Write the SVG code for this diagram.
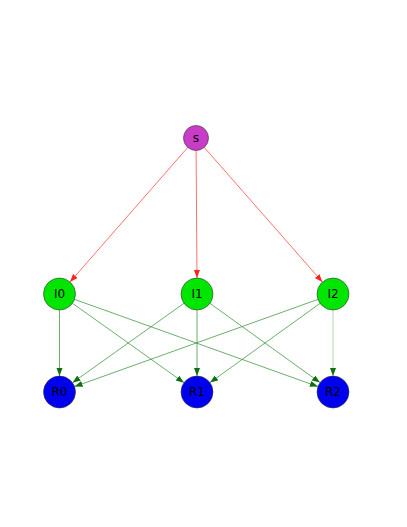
<svg xmlns="http://www.w3.org/2000/svg" width="407" height="527" viewBox="0 0 407 527">
<style>
.n{stroke:#333;stroke-width:0.6}
.s{fill:#c83cc8}
.i{fill:#00e600}
.r{fill:#0000f0}
text{font-family:"DejaVu Sans",sans-serif;font-size:12px;fill:#000;text-anchor:middle;dominant-baseline:central}
.re{stroke:#ff3030;stroke-width:0.7;fill:none;marker-end:url(#ar)}
.ge{stroke:#2e8b2e;stroke-width:0.7;fill:none;marker-end:url(#ag)}
</style>
<defs>
<marker id="ar" markerUnits="userSpaceOnUse" markerWidth="9" markerHeight="7" refX="8" refY="3" orient="auto"><path d="M0,0 L8,3 L0,6 z" fill="#ff2020"/></marker>
<marker id="ag" markerUnits="userSpaceOnUse" markerWidth="9" markerHeight="7" refX="8" refY="3" orient="auto"><path d="M0,0 L8,3 L0,6 z" fill="#0f6f0f"/></marker>
</defs>
<rect width="407" height="527" fill="#fff"/>
<g id="edges">
<line class="re" x1="188.1" y1="147" x2="70" y2="282"/>
<line class="re" x1="196.1" y1="150.5" x2="197" y2="278"/>
<line class="re" x1="203.9" y1="147" x2="322.4" y2="282"/>
<line class="ge" x1="59.5" y1="310" x2="59.5" y2="376"/>
<line class="ge" x1="72.5" y1="303.3" x2="184" y2="382.7"/>
<line class="ge" x1="74.6" y1="299.4" x2="317.9" y2="386.6"/>
<line class="ge" x1="184" y1="303.3" x2="72.5" y2="382.7"/>
<line class="ge" x1="197" y1="310" x2="197" y2="376"/>
<line class="ge" x1="210" y1="303.4" x2="320" y2="382.6"/>
<line class="ge" x1="317.9" y1="299.4" x2="74.6" y2="386.6"/>
<line class="ge" x1="320" y1="303.4" x2="210" y2="382.6"/>
<line class="ge" x1="333" y1="310" x2="333" y2="376" style="stroke:#8ac88a"/>
</g>
<g id="s"><circle class="n s" cx="196" cy="138" r="12.5"/><text x="196" y="138">s</text></g>
<g id="I0"><circle class="n i" cx="59.5" cy="294" r="16"/><text x="59.5" y="294">I0</text></g>
<g id="I1"><circle class="n i" cx="197" cy="294" r="16"/><text x="197" y="294">I1</text></g>
<g id="I2"><circle class="n i" cx="333" cy="294" r="16"/><text x="333" y="294">I2</text></g>
<g id="R0"><circle class="n r" cx="59.5" cy="392" r="16"/><text x="59.5" y="392">R0</text></g>
<g id="R1"><circle class="n r" cx="197" cy="392" r="16"/><text x="197" y="392">R1</text></g>
<g id="R2"><circle class="n r" cx="333" cy="392" r="16"/><text x="333" y="392">R2</text></g>
</svg>
